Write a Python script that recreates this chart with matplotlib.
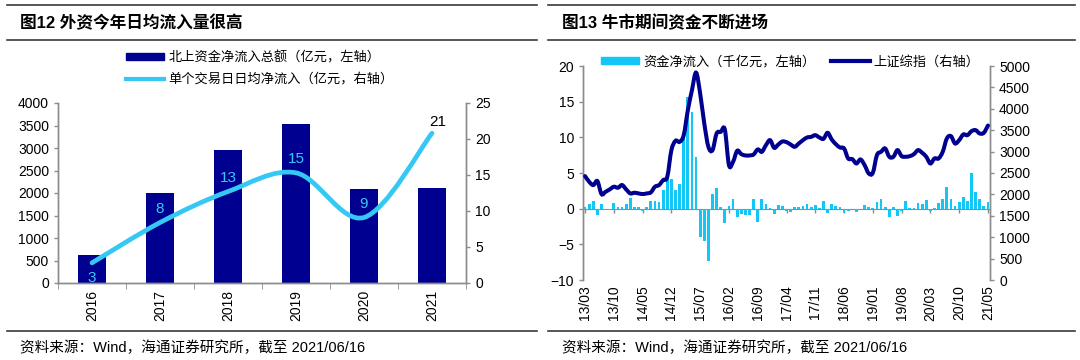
import numpy as np
import matplotlib
matplotlib.use("Agg")
import matplotlib.pyplot as plt
from matplotlib.path import Path
from matplotlib.patches import PathPatch, Patch
from matplotlib.lines import Line2D

plt.rcParams['font.family'] = ['Liberation Sans', 'Noto Sans CJK SC']

# ---- left chart data (图12) ----
years = ['2016', '2017', '2018', '2019', '2020', '2021']
north_total = [620, 2010, 2960, 3530, 2100, 2110]       # 亿元, left axis
daily_avg = [2.8, 8.4, 12.7, 15.3, 9.1, 20.8]           # 亿元, right axis

# ---- right chart data (图13), monthly 2013/03 - 2021/05 ----
month_labels = [f"{y % 100:02d}/{m:02d}" for y in range(2013, 2022) for m in range(1, 13)]
month_labels = month_labels[2:2 + 99]
net_inflow = [
    0.2, 0.7, 1.1, -0.9, 0.6, -0.2, -0.2, 0.8, 0.3, 0.3,
    0.6, 1.5, 0.2, 0.2, -0.3, 0.3, 1.1, 1.1, 1.0, 2.6, 5.0, 4.1,
    2.6, 3.5, 10.5, 15.6, 13.5, 7.3, -4.0, -4.5, -7.4, 2.0, 2.9, 0.2,
    -2.0, 0.4, 1.4, -1.2, -0.7, -0.9, -0.9, 1.3, -1.8, 1.3, 0.6, 0.1,
    -0.8, 0.5, 0.4, -0.3, -0.5, 0.2, 0.3, 0.4, 0.6, 0.3, 0.5, 0.1,
    1.1, -0.6, 0.6, 0.4, 0.3, -0.6, -0.3, -0.1, -0.4, -0.1, 0.5, 0.2,
    0.1, 0.9, 1.4, 0.3, -1.2, 0.2, -1.0, -0.3, 1.1, 0.1, 0.1, 0.8,
    0.7, 1.2, -0.3, 0.1, 0.8, 1.3, 3.1, 1.3, 0.4, 1.0, 1.6, 1.1,
    5.0, 2.3, 1.3, 0.4, 1.0,
]
sh_index = [
    2428, 2295, 2218, 2311, 2008, 2062, 2117, 2179, 2156, 2218,
    2117, 2023, 2039, 2023, 2008, 2023, 2047, 2179, 2218, 2334, 2412, 3034,
    3252, 3228, 3384, 3967, 4434, 4846, 4356, 3656, 3112, 3034, 3423, 3462,
    3516, 2684, 2762, 3019, 2941, 2910, 2910, 2933, 3050, 2995, 3151, 3267,
    3089, 3166, 3236, 3221, 3166, 3112, 3190, 3267, 3330, 3345, 3384, 3330,
    3299, 3439, 3283, 3174, 3096, 3073, 2840, 2824, 2723, 2816, 2684, 2490,
    2505, 2918, 2995, 3073, 2879, 2879, 3034, 2894, 2879, 2894, 2941, 3034,
    2972, 2879, 2723, 2840, 2840, 2995, 3306, 3361, 3190, 3267, 3400, 3384,
    3477, 3501, 3423, 3439, 3610,
]

NAVY = '#000090'
CYAN_LINE = '#36C8F4'
CYAN_BAR = '#12C6F6'
GREY = '#8c8c8c'
RULE = '#3a3a3a'
TICK_FS = 10


def smooth_path(x, y):
    """Excel-like smoothed line as cubic Bezier segments through the points."""
    x = np.asarray(x, float)
    y = np.asarray(y, float)
    n = len(x)
    verts = [(x[0], y[0])]
    codes = [Path.MOVETO]
    for i in range(n - 1):
        a = i - 1 if i > 0 else i
        b = i + 2 if i + 2 < n else i + 1
        c1 = (x[i] + (x[i + 1] - x[a]) / 6, y[i] + (y[i + 1] - y[a]) / 6)
        c2 = (x[i + 1] - (x[b] - x[i]) / 6, y[i + 1] - (y[b] - y[i]) / 6)
        verts += [c1, c2, (x[i + 1], y[i + 1])]
        codes += [Path.CURVE4] * 3
    return Path(verts, codes)


def style_axis(ax):
    for s in ax.spines.values():
        s.set_color(GREY)
        s.set_linewidth(1.0)
    ax.tick_params(colors=GREY, labelcolor='black', labelsize=TICK_FS, length=3, width=1)


fig = plt.figure(figsize=(10.8, 3.6), dpi=100)
W, H = 1080.0, 360.0


def hrule(x0, x1, y):
    fig.add_artist(Line2D([x0 / W, x1 / W], [1 - y / H, 1 - y / H],
                          transform=fig.transFigure, color=RULE, lw=1.2))


# frame lines, titles and sources
for x0, x1 in [(7, 537), (548, 1075)]:
    hrule(x0, x1, 5)
    hrule(x0, x1, 40)
    hrule(x0, x1, 331)
fig.text(20 / W, 1 - 23 / H, '图12 外资今年日均流入量很高', fontsize=12,
         fontweight='bold', va='center', ha='left')
fig.text(562 / W, 1 - 23 / H, '图13 牛市期间资金不断进场', fontsize=12,
         fontweight='bold', va='center', ha='left')
for xs in [20, 562]:
    fig.text(xs / W, 1 - 348 / H, '资料来源：Wind，海通证券研究所，截至 2021/06/16',
             fontsize=10.5, va='center', ha='left')

# ---------------- left chart ----------------
ax1 = fig.add_axes([58 / W, 1 - 283 / H, 408 / W, 180 / H])
xs = np.arange(len(years))
ax1.bar(xs, north_total, width=0.42, color=NAVY, zorder=2)
ax1.set_xlim(-0.5, len(years) - 0.5)
ax1.set_ylim(0, 4000)
ax1.set_yticks(np.arange(0, 4001, 500))
ax1.set_xticks(xs, years, rotation=90)
ax1.set_xticks(np.arange(-0.5, len(years)), minor=True)
style_axis(ax1)
ax1.tick_params(axis='x', which='major', length=0, pad=5)
ax1.tick_params(axis='x', which='minor', length=4, color=GREY)
ax1.spines['top'].set_visible(False)

ax2 = ax1.twinx()
ax2.set_ylim(0, 25)
ax2.set_yticks(np.arange(0, 26, 5))
style_axis(ax2)
ax2.spines['top'].set_visible(False)
ax2.add_patch(PathPatch(smooth_path(xs, daily_avg), fill=False,
                        edgecolor=CYAN_LINE, lw=3.4, capstyle='round', zorder=3))
for i, v in enumerate(daily_avg):
    if i == 0:
        off, col = (0, -11), CYAN_LINE
    elif i == len(daily_avg) - 1:
        off, col = (4, 8), 'black'
    else:
        off, col = (0, 10), CYAN_LINE
    ax2.annotate(f"{v:.0f}", (i, v), xytext=off, textcoords='offset points',
                 ha='center', va='center', fontsize=11, color=col, zorder=4)

fig.legend(handles=[Patch(color=NAVY), Line2D([], [], color=CYAN_LINE, lw=3)],
           labels=['北上资金净流入总额（亿元，左轴）', '单个交易日日均净流入（亿元，右轴）'],
           loc='upper left', bbox_to_anchor=(126 / W, 1 - 51 / H), frameon=False,
           fontsize=9.5, handlelength=2.9, handleheight=0.5, handletextpad=0.3,
           labelspacing=0.65, borderpad=0, borderaxespad=0)

# ---------------- right chart ----------------
ax3 = fig.add_axes([583 / W, 1 - 280 / H, 407 / W, 214 / H])
idx = np.arange(len(net_inflow))
ax3.bar(idx, net_inflow, width=0.7, color=CYAN_BAR, zorder=2)
ax3.set_xlim(-0.5, len(net_inflow) - 0.5)
ax3.set_ylim(-10, 20)
ax3.set_yticks(np.arange(-10, 21, 5))
style_axis(ax3)
ax3.spines['top'].set_visible(False)
ax3.spines['bottom'].set_visible(False)
ax3.set_xticks(idx[::7], month_labels[::7], rotation=90)
ax3.tick_params(axis='x', length=0, pad=4)

zero_ax = ax3.secondary_xaxis(1 / 3)
zero_ax.set_xticks(idx[::7], [])
zero_ax.spines['bottom'].set_color(GREY)
zero_ax.tick_params(axis='x', colors=GREY, length=3, width=1)

ax4 = ax3.twinx()
ax4.set_ylim(0, 5000)
ax4.set_yticks(np.arange(0, 5001, 500))
style_axis(ax4)
ax4.spines['top'].set_visible(False)
ax4.spines['bottom'].set_visible(False)
ax4.add_patch(PathPatch(smooth_path(idx, sh_index), fill=False,
                        edgecolor=NAVY, lw=2.9, capstyle='round', zorder=3))

fig.legend(handles=[Patch(color=CYAN_BAR), Line2D([], [], color=NAVY, lw=3)],
           labels=['资金净流入（千亿元，左轴）', '上证综指（右轴）'],
           loc='center left', bbox_to_anchor=(601 / W, 1 - 62 / H), frameon=False,
           ncol=2, fontsize=9.5, handlelength=2.9, handleheight=0.5, handletextpad=0.3,
           columnspacing=1.2, borderpad=0, borderaxespad=0)

fig.savefig('out.png', dpi=100)
